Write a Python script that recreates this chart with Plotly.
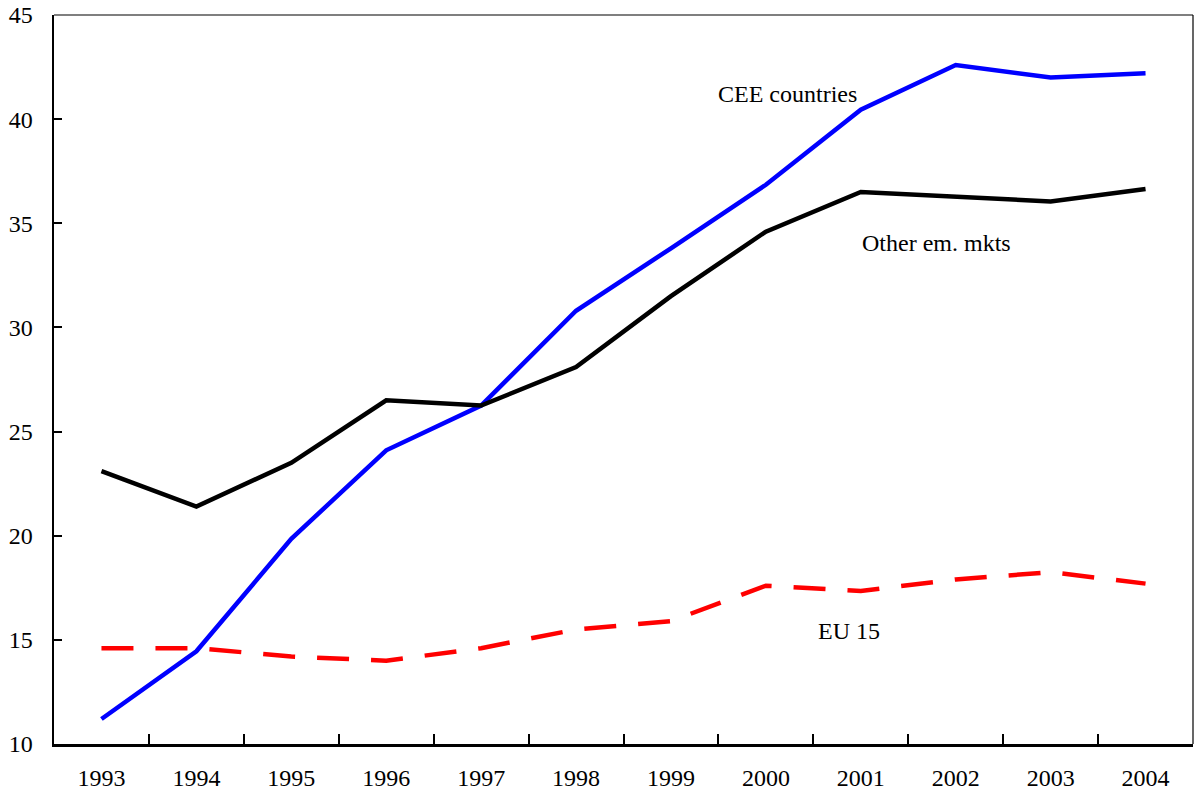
import plotly.graph_objects as go

years = ["1993", "1994", "1995", "1996", "1997", "1998", "1999", "2000", "2001", "2002", "2003", "2004"]
cee = [11.2, 14.45, 19.85, 24.1, 26.25, 30.8, 33.8, 36.85, 40.45, 42.6, 42.0, 42.2]
other = [23.1, 21.4, 23.5, 26.5, 26.25, 28.1, 31.5, 34.6, 36.5, 36.3, 36.05, 36.65]
eu15 = [14.6, 14.6, 14.2, 14.0, 14.6, 15.5, 15.9, 17.6, 17.35, 17.9, 18.25, 17.7]

FONT = "Liberation Serif, Times New Roman, serif"
FS = 24

fig = go.Figure()
fig.add_trace(go.Scatter(x=years, y=cee, mode="lines", name="CEE countries",
                         line=dict(color="#0000ff", width=4.5)))
fig.add_trace(go.Scatter(x=years, y=other, mode="lines", name="Other em. mkts",
                         line=dict(color="#000000", width=4.5)))
fig.add_trace(go.Scatter(x=years, y=eu15, mode="lines", name="EU 15",
                         line=dict(color="#ff0000", width=4.5, dash="32px,22px")))

fig.update_layout(
    width=1196, height=798,
    margin=dict(l=54, r=3, t=15, b=54, autoexpand=False),
    paper_bgcolor="white", plot_bgcolor="white",
    showlegend=False,
    font=dict(family=FONT, size=FS, color="#000000"),
    xaxis=dict(type="category", range=[-0.5, 11.5], tickson="boundaries",
               ticks="inside", ticklen=10, tickwidth=2, tickcolor="black",
               showline=True, linecolor="black", linewidth=2.5,
               showgrid=False, zeroline=False, automargin=False,
               ticklabelstandoff=11,
               tickfont=dict(family=FONT, size=FS)),
    yaxis=dict(range=[10, 45], tickvals=[10, 15, 20, 25, 30, 35, 40, 45],
               ticks="inside", ticklen=8, tickwidth=2, tickcolor="black",
               showline=True, linecolor="black", linewidth=2.5,
               showgrid=False, zeroline=False, ticklabelstandoff=14,
               automargin=False,
               tickfont=dict(family=FONT, size=FS)),
    shapes=[
        dict(type="line", xref="paper", yref="paper", x0=0, x1=1, y0=1, y1=1,
             line=dict(color="black", width=1.2)),
        dict(type="line", xref="paper", yref="paper", x0=1, x1=1, y0=0, y1=1,
             line=dict(color="black", width=1.2)),
    ],
    annotations=[
        dict(x=0.6436, y=0.8916, xref="paper", yref="paper", text="CEE countries",
             showarrow=False, xanchor="center", yanchor="middle",
             font=dict(family=FONT, size=FS)),
        dict(x=0.7752, y=0.687, xref="paper", yref="paper", text="Other em. mkts",
             showarrow=False, xanchor="center", yanchor="middle",
             font=dict(family=FONT, size=FS)),
        dict(x=0.698, y=0.155, xref="paper", yref="paper", text="EU 15",
             showarrow=False, xanchor="center", yanchor="middle",
             font=dict(family=FONT, size=FS)),
    ],
)

fig.write_html("out.html", config={"displayModeBar": False, "staticPlot": True},
               post_script="document.body.style.margin='0';document.body.style.overflow='hidden';")
